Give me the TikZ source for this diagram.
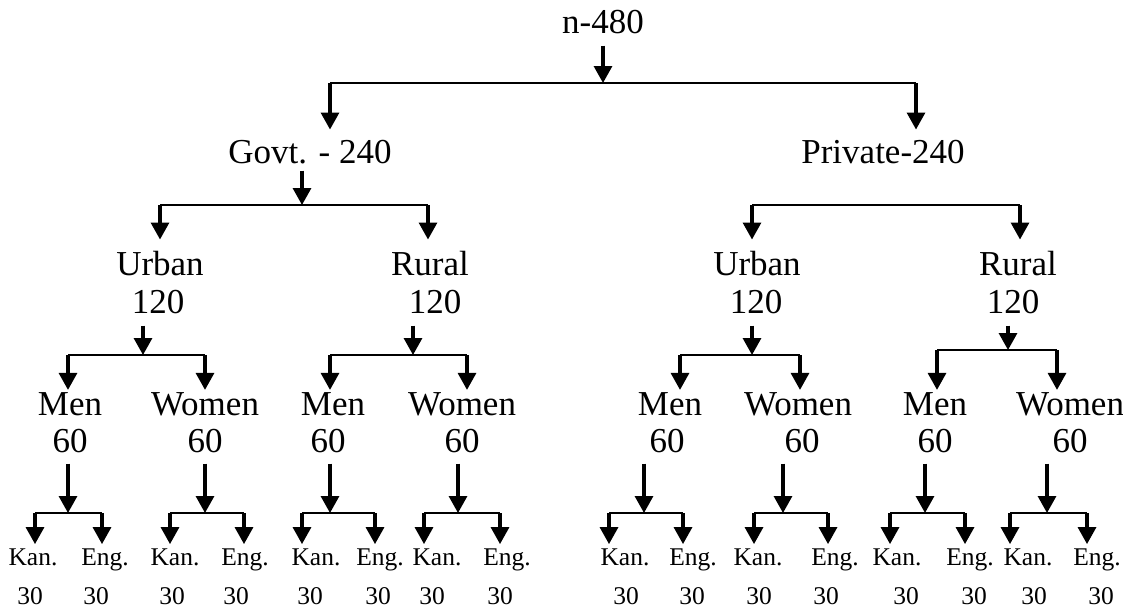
\documentclass[tikz,border=0pt]{standalone}
\usepackage{fontspec}
\setmainfont{Liberation Serif}
\usetikzlibrary{arrows.meta,calc}
\begin{document}
\begin{tikzpicture}[x=1pt,y=-1pt,
  lab/.style={anchor=base,inner sep=0pt,font=\fontsize{35}{35}\selectfont},
  sm/.style={anchor=base,inner sep=0pt,font=\fontsize{25.5}{25.5}\selectfont},
  arr/.style={line width=3.2pt,-{Triangle[width=18pt,length=17pt]}},
  bar/.style={line width=2.4pt}]
\useasboundingbox (0,0) rectangle (1123,611);
% level 1
\node[lab] (root) at (603,33) {n-480};
\node[lab] (gov) at (310,163) {Govt. - 240};
\node[lab] (pri) at (883,163) {Private-240};
% level 2
\node[lab] (gu) at (160,275) {Urban};  \node[lab] (gun) at (158,313) {120};
\node[lab] (gr) at (430,275) {Rural};  \node[lab] (grn) at (435,313) {120};
\node[lab] (pu) at (757,275) {Urban};  \node[lab] (pun) at (756,313) {120};
\node[lab] (pr) at (1018,275) {Rural}; \node[lab] (prn) at (1013,313) {120};
% level 3
\foreach \i/\wx/\nx/\w in {1/70/70/Men,2/205/205/Women,3/333/328/Men,4/462/462/Women,
  5/670/667/Men,6/798/802/Women,7/935/935/Men,8/1070/1070/Women}{
  \node[lab] (m\i) at (\wx,415) {\w};
  \node[lab] (s\i) at (\nx,452) {60};
}
% root split
\coordinate (rj) at (603,83); \coordinate (rl) at (330,83); \coordinate (rr) at (916,83);
\draw[arr] ($(root.south -| rj)+(0,12)$) -- (rj);
\draw[bar] (rl) -- (rr);
\draw[arr] (rl) -- ($(rl |- gov.north)+(0,-10)$);
\draw[arr] (rr) -- ($(rr |- pri.north)+(0,-10)$);
% govt split
\coordinate (gj) at (302,205); \coordinate (gl) at (160,205); \coordinate (gR) at (428,205);
\draw[arr] ($(gov.south -| gj)+(0,7)$) -- (gj);
\draw[bar] (gl) -- (gR);
\draw[arr] (gl) -- ($(gl |- gu.north)+(0,-11)$);
\draw[arr] (gR) -- ($(gR |- gr.north)+(0,-11)$);
% private split
\coordinate (pl) at (752,205); \coordinate (pR) at (1020,205);
\draw[bar] (pl) -- (pR);
\draw[arr] (pl) -- ($(pl |- pu.north)+(0,-11)$);
\draw[arr] (pR) -- ($(pR |- pr.north)+(0,-11)$);
% level 2 splits
\foreach \p/\sx/\lx/\rx/\by/\a/\b in {gun/143/68/205/355/1/2,grn/413/330/467/355/3/4,
  pun/752/680/800/355/5/6,prn/1008/937/1057/350/7/8}{
  \coordinate (\p j) at (\sx,\by);
  \coordinate (\p l) at (\lx,\by);
  \coordinate (\p r) at (\rx,\by);
  \draw[arr] ($(\p.south -| \p j)+(0,12)$) -- (\p j);
  \draw[bar] (\p l) -- (\p r);
  \draw[arr] (\p l) -- ($(\p l |- m\a.north)+(0,-2)$);
  \draw[arr] (\p r) -- ($(\p r |- m\b.north)+(0,-2)$);
}
% bottom level
\foreach \i/\sx/\lx/\rx/\kx/\ex/\kn/\en in {1/68/35/102/33/105/30/96,
  2/205/170/244/175/245/172/236,3/330/302/375/316/380/310/378,
  4/458/424/500/437/507/432/500,5/644/609/683/625/693/626/692,
  6/783/754/828/758/835/759/826,7/925/890/965/897/970/906/974,
  8/1047/1010/1087/1028/1097/1034/1101}{
  \node[sm] (k\i) at (\kx,565) {Kan.};
  \node[sm] (e\i) at (\ex,565) {Eng.};
  \node[sm] (kn\i) at (\kn,604) {30};
  \node[sm] (en\i) at (\en,604) {30};
  \coordinate (j\i) at (\sx,513);
  \coordinate (l\i) at (\lx,513);
  \coordinate (r\i) at (\rx,513);
  \draw[arr] ($(s\i.south -| j\i)+(0,11)$) -- (j\i);
  \draw[bar] (l\i) -- (r\i);
  \draw[arr] (l\i) -- ($(l\i |- k\i.north)+(0,-4)$);
  \draw[arr] (r\i) -- ($(r\i |- e\i.north)+(0,-4)$);
}
\end{tikzpicture}
\end{document}
